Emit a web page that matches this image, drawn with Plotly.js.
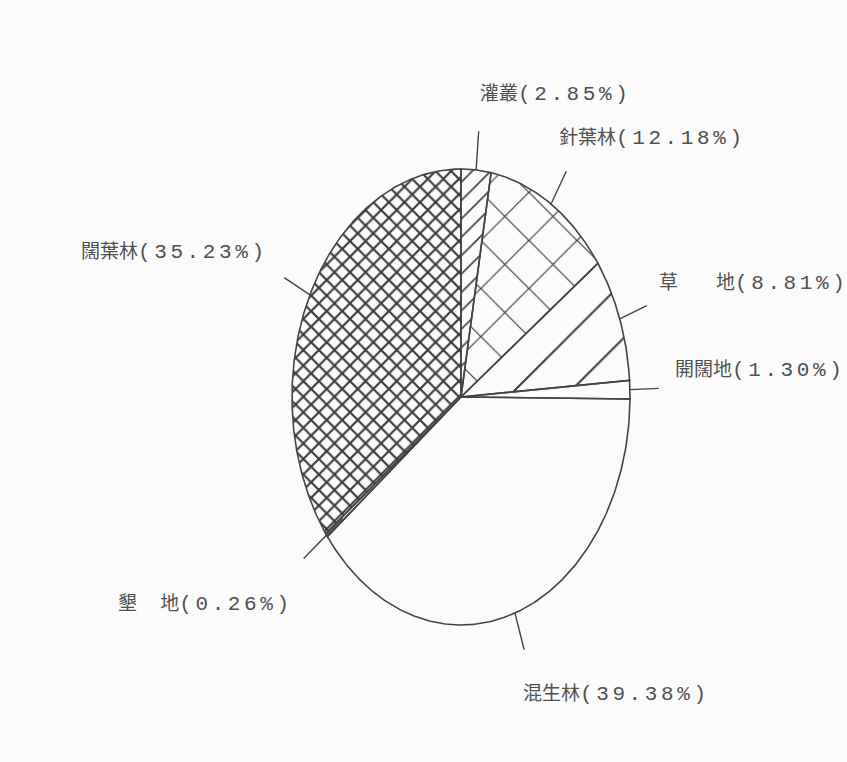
<!DOCTYPE html>
<html>
<head>
<meta charset="utf-8">
<script src="https://cdn.plot.ly/plotly-3.0.1.min.js"></script>
<style>
html,body{margin:0;padding:0;background:#fbfbfb;}
#chart{width:847px;height:762px;}
</style>
</head>
<body>
<div id="chart"></div>
<script>
// ---- data (clockwise from 12 o'clock) ----
const categories = ['灌叢', '針葉林', '草地', '開闊地', '混生林', '墾地', '闊葉林'];
const displayNames = ['灌叢', '針葉林', '草　　地', '開闊地', '混生林', '墾　 地', '闊葉林'];
const percents = [2.85, 12.18, 8.81, 1.30, 39.38, 0.26, 35.23];

// ---- styles ----
const patternShapes = ['/', 'x', '/', '', '', '', 'x'];
const patternSizes = [13, 34, 40, 10, 10, 10, 11];
const patternSolidity = [0.12, 0.07, 0.05, 0.1, 0.1, 0.1, 0.36];
// label anchor positions in page pixels (left, middle)
const labelPx = [[478, 92], [557, 136], [657, 281], [673, 368], [521, 692], [116, 602], [79, 250]];

const W = 847, H = 762;
const cx = 461, cy = 397, rx = 169, ry = 228;

const total = percents.reduce((a, b) => a + b, 0);
function pt(deg, r) {
  const t = deg * Math.PI / 180;
  return [r * Math.sin(t), r * Math.cos(t)];
}

const traces = [];
let cum = 0;
const mids = [];
categories.forEach((c, i) => {
  const a0 = cum / total * 360;
  cum += percents[i];
  const a1 = cum / total * 360;
  mids.push((a0 + a1) / 2);
  const xs = [0], ys = [0];
  const n = Math.max(2, Math.ceil((a1 - a0) / 0.5));
  for (let k = 0; k <= n; k++) {
    const p = pt(a0 + (a1 - a0) * k / n, 1);
    xs.push(p[0]); ys.push(p[1]);
  }
  xs.push(0); ys.push(0);
  const tr = {
    type: 'scatter', mode: 'lines', x: xs, y: ys, name: c,
    fill: 'toself', fillcolor: 'rgba(0,0,0,0)',
    line: {color: '#444444', width: 1.6},
    hoverinfo: 'skip', showlegend: false
  };
  if (patternShapes[i]) {
    tr.fillpattern = {shape: patternShapes[i], size: patternSizes[i], solidity: patternSolidity[i],
                      fgcolor: '#3c3c3c', bgcolor: 'rgba(0,0,0,0)', fillmode: 'replace'};
  }
  traces.push(tr);
});

// leader lines at slice mid angles
const lx = [], ly = [];
mids.forEach((m, i) => {
  const inner = categories[i] === '墾地' ? 0.88 : 1.0;
  const p0 = pt(m, inner), p1 = pt(m, 1.17);
  lx.push(p0[0], p1[0], null); ly.push(p0[1], p1[1], null);
});
traces.push({type: 'scatter', mode: 'lines', x: lx, y: ly, line: {color: '#444444', width: 1.4},
             hoverinfo: 'skip', showlegend: false});

const annotations = categories.map((c, i) => ({
  xref: 'paper', yref: 'paper',
  x: labelPx[i][0] / W, y: 1 - labelPx[i][1] / H,
  xanchor: 'left', yanchor: 'middle', showarrow: false,
  text: displayNames[i] + '<span style="font-family:Liberation Mono;font-size:21px;letter-spacing:3.6px">(' + percents[i].toFixed(2) + '%)</span>',
  font: {family: 'Noto Sans CJK TC, sans-serif', size: 19, color: '#505050'}
}));

const layout = {
  width: W, height: H,
  margin: {l: 0, r: 0, t: 0, b: 0},
  paper_bgcolor: '#fbfbfb', plot_bgcolor: 'rgba(0,0,0,0)',
  xaxis: {range: [-cx / rx, (W - cx) / rx], visible: false, fixedrange: true},
  yaxis: {range: [-(H - cy) / ry, cy / ry], visible: false, fixedrange: true},
  annotations: annotations,
  showlegend: false
};

Plotly.newPlot('chart', traces, layout, {displayModeBar: false, staticPlot: true});
</script>
</body>
</html>
